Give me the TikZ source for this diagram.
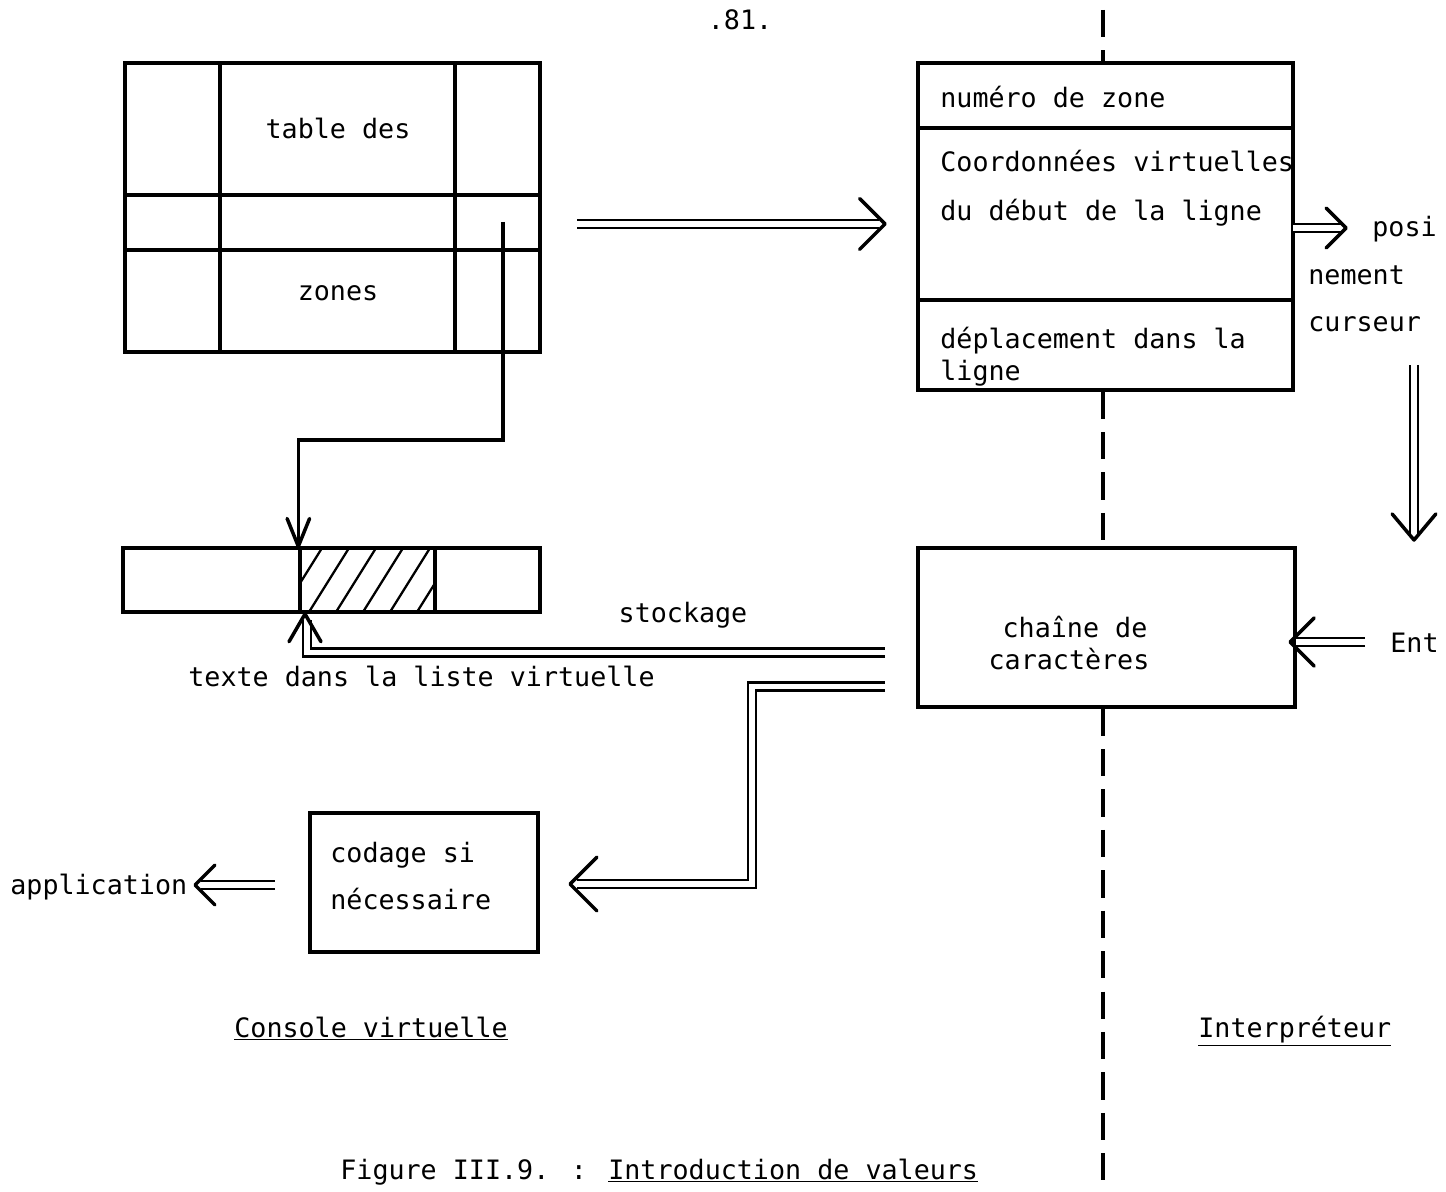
\documentclass[tikz,border=0pt]{standalone}
\usepackage{fontspec}
\newfontfamily\tw{DejaVu Sans Mono}
\usetikzlibrary{fit,calc}
\newcommand\vhead[4]{\draw[hd] (#1) ++(#2+#4:#3) -- (#1) -- ++(#2-#4:#3);}
\begin{document}
\begin{tikzpicture}[x=0.02cm,y=0.02cm,
  box/.style={draw, line width=1.9pt, inner sep=0pt},
  ln/.style={line width=1.9pt},
  dbl/.style={double, line width=1.6pt, double distance=2.9pt},
  hd/.style={line width=2pt, line cap=round, line join=round},
  txt/.style={font=\tw\fontsize{15.2}{18}\selectfont, inner sep=0pt},
  midline/.style={line width=2.4pt, dash pattern=on 15.5pt off 7.5pt}]
\useasboundingbox (0,0) rectangle (1446,-1192);
% page number
\node[txt, anchor=base] (pg) at (740,-30) {.81.};
% table des zones
\node[box, fit={(125,-63)(540,-352)}] (table) {};
\draw[ln] (220,-63) -- (220,-352) (455,-63) -- (455,-352)
          (125,-195) -- (540,-195) (125,-250) -- (540,-250);
\node[txt, anchor=base] (t1) at (338,-139) {table des};
\node[txt, anchor=base] (t2) at (338,-301) {zones};
% liste virtuelle
\node[box, fit={(123,-548)(540,-612)}] (bar) {};
\node[box, fit={(300,-548)(435,-612)}] (hatch) {};
\begin{scope}
  \clip (hatch.south west) rectangle (hatch.north east);
  \foreach \i in {0,...,6} \draw[line width=1.3pt] (282+\i*27,-612) -- ++(40,64);
\end{scope}
% right box
\node[box, fit={(918,-63)(1293,-390)}] (rbox) {};
\draw[ln] (918,-128) -- (1293,-128) (918,-300) -- (1293,-300);
\node[txt, anchor=base west] (r1) at (940,-108) {numéro de zone};
\node[txt, anchor=base west] (r2) at (940,-172) {Coordonnées virtuelles};
\node[txt, anchor=base west] (r3) at (940,-221) {du début de la ligne};
\node[txt, anchor=base west] (r4) at (940,-349) {déplacement dans la};
\node[txt, anchor=base west] (r5) at (940,-381) {ligne};
\node[txt, anchor=base west] (p1) at (1372,-237) {posi};
\node[txt, anchor=base west] (p2) at (1308,-285) {nement};
\node[txt, anchor=base west] (p3) at (1308,-332) {curseur};
% chaine box
\node[box, fit={(918,-548)(1295,-707)}] (chain) {};
\node[txt, anchor=base] (c1) at (1075,-637) {chaîne de};
\node[txt, anchor=base] (c2) at (1069,-669) {caractères};
\node[txt, anchor=base west] (ent) at (1390,-652) {Ent};
% codage box
\node[box, fit={(310,-813)(538,-952)}] (cod) {};
\node[txt, anchor=base west] (k1) at (330,-862) {codage si};
\node[txt, anchor=base west] (k2) at (330,-909) {nécessaire};
\node[txt, anchor=base west] (app) at (10,-894) {application};
% other labels
\node[txt, anchor=base] (stock) at (683,-622) {stockage};
\node[txt, anchor=base west] (liste) at (188,-686) {texte dans la liste virtuelle};
\node[txt, anchor=base west] (cons) at (234,-1037) {\underline{Console virtuelle}};
\node[txt, anchor=base west] (interp) at (1198,-1037) {\underline{Interpréteur}};
\node[txt, anchor=base west] (fig) at (340,-1179) {Figure III.9. : \underline{Introduction de valeurs}};
% dashed separator
\coordinate (d0) at (1103,-10);
\coordinate (d1) at (1103,-1192);
\draw[midline] (d0) -- (rbox.north -| d0);
\draw[midline] (rbox.south -| d0) -- (chain.north -| d0);
\draw[midline] (chain.south -| d0) -- (d1);
% table -> liste
\coordinate (tabout) at (503,-222);
\draw[ln] (tabout) -- (503,-440) -| (hatch.north west);
\vhead{hatch.north west}{90}{30}{22}
% table -> right box
\coordinate (a1s) at (577,-224);
\coordinate (a1e) at (885,-224);
\draw[dbl] (a1s) -- ($(a1e)+(-6,0)$);
\vhead{a1e}{180}{36}{45}
% right box -> positionnement
\coordinate (a2s) at (1293,-228);
\coordinate (a2e) at (1346,-228);
\draw[dbl] (a2s) -- ($(a2e)+(-5,0)$);
\vhead{a2e}{180}{28}{45}
% vertical double arrow
\coordinate (a3s) at (1414,-365);
\coordinate (a3e) at (1414,-540);
\draw[dbl] (a3s) -- ($(a3e)+(0,6)$);
\vhead{a3e}{90}{34}{40}
% Ent -> chain
\coordinate (a4s) at (1365,-642);
\coordinate (a4e) at (1290,-642);
\draw[dbl] (a4s) -- ($(a4e)+(6,0)$);
\vhead{a4e}{0}{34}{45}
% chain -> liste (stockage)
\coordinate (a5s) at (885,-652.5);
\coordinate (a5e) at (305,-614);
\draw[dbl] (a5s) -| ($(a5e)+(2,-6)$);
\vhead{a5e}{-90}{32}{30}
% chain -> codage
\coordinate (a6s) at (885,-686.5);
\coordinate (a6e) at (570,-884);
\draw[dbl] (a6s) -| (752,-884) -- ($(a6e)+(7,0)$);
\vhead{a6e}{0}{38}{45}
% codage -> application
\coordinate (a7s) at (275,-885);
\coordinate (a7e) at (195,-885);
\draw[dbl] (a7s) -- ($(a7e)+(6,0)$);
\vhead{a7e}{0}{28}{45}
\end{tikzpicture}
\end{document}
